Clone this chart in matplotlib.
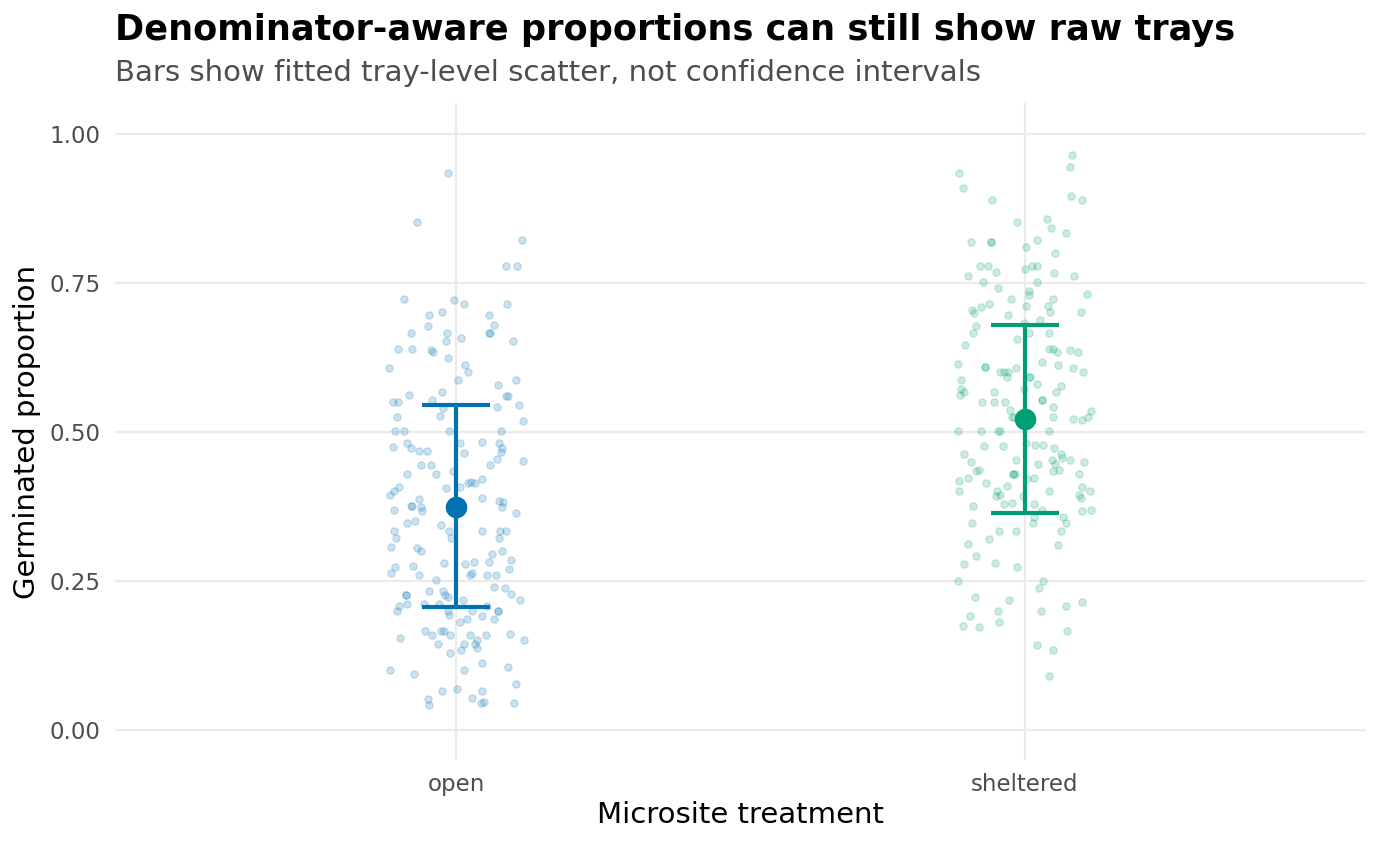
import matplotlib.pyplot as plt

# Data

categories = ['open', 'sheltered']
colors = ['#0072B2', '#009E73']

# fitted proportion and tray-level scatter band (lower, upper)
fit_mean = [0.374, 0.522]
fit_low = [0.206, 0.364]
fit_high = [0.545, 0.680]

# raw trays: horizontal jitter (category units) and germinated proportion
open_jitter = [
    -0.015, -0.069, 0.116, 0.087, 0.107, -0.091, -0.004, 0.013, 0.090, -0.047,
    -0.025, 0.057, -0.049, 0.067, -0.080, -0.016, 0.057, 0.060, -0.018, 0.008,
    0.100, -0.102, -0.078, -0.044, -0.040, -0.014, -0.118, 0.015, 0.021, 0.004,
    0.074, 0.105, -0.083, -0.025, -0.111, -0.102, -0.043, 0.087, 0.091, -0.024,
    0.072, 0.111, -0.104, -0.029, 0.118, -0.108, -0.091, -0.012, 0.078, -0.111,
    -0.086, -0.080, -0.066, -0.051, 0.007, 0.014, 0.046, 0.076, 0.081, 0.079,
    0.072, 0.059, 0.117, -0.062, -0.044, -0.086, -0.036, -0.006, -0.018, 0.007,
    -0.101, -0.109, -0.116, 0.020, 0.026, 0.033, 0.046, -0.065, -0.079, -0.077,
    -0.061, -0.060, -0.109, 0.045, 0.075, 0.083, 0.080, 0.106, -0.087, -0.072,
    -0.026, -0.012, -0.009, -0.110, -0.105, 0.046, 0.077, 0.087, 0.076, -0.114,
    -0.069, -0.061, 0.063, 0.080, 0.097, -0.108, -0.115, -0.076, -0.066, -0.022,
    0.016, 0.032, 0.057, 0.093, 0.025, 0.028, 0.054, 0.070, -0.035, -0.047,
    -0.024, -0.019, -0.015, -0.088, -0.088, 0.067, 0.086, 0.097, 0.113, -0.101,
    -0.104, -0.086, -0.057, -0.030, -0.014, -0.012, 0.012, 0.028, 0.054, 0.073,
    0.073, 0.045, 0.066, 0.006, 0.019, -0.054, -0.027, -0.022, -0.043, -0.011,
    -0.099, 0.025, 0.053, 0.095, 0.119, -0.032, 0.014, 0.033, 0.037, 0.037,
    -0.011, 0.008, 0.046, 0.091, -0.117, -0.074, 0.013, 0.105, -0.025, 0.001,
    0.046, 0.027, -0.049, -0.047, 0.043, 0.049, 0.101,
]
open_prop = [
    0.934, 0.853, 0.822, 0.779, 0.779, 0.723, 0.721, 0.715, 0.715, 0.696,
    0.701, 0.696, 0.678, 0.680, 0.667, 0.667, 0.667, 0.667, 0.653, 0.657,
    0.653, 0.640, 0.640, 0.638, 0.634, 0.625, 0.608, 0.612, 0.601, 0.587,
    0.579, 0.587, 0.563, 0.568, 0.551, 0.551, 0.553, 0.560, 0.560, 0.541,
    0.542, 0.546, 0.525, 0.527, 0.518, 0.501, 0.501, 0.501, 0.501, 0.475,
    0.481, 0.474, 0.469, 0.469, 0.481, 0.465, 0.484, 0.482, 0.474, 0.466,
    0.455, 0.445, 0.452, 0.445, 0.445, 0.429, 0.429, 0.435, 0.407, 0.408,
    0.408, 0.401, 0.394, 0.415, 0.417, 0.414, 0.422, 0.388, 0.376, 0.376,
    0.375, 0.367, 0.369, 0.390, 0.385, 0.382, 0.375, 0.365, 0.347, 0.351,
    0.344, 0.334, 0.322, 0.334, 0.322, 0.334, 0.334, 0.334, 0.322, 0.308,
    0.305, 0.301, 0.296, 0.301, 0.286, 0.273, 0.264, 0.276, 0.261, 0.280,
    0.278, 0.282, 0.282, 0.270, 0.261, 0.263, 0.261, 0.261, 0.252, 0.234,
    0.234, 0.227, 0.223, 0.227, 0.227, 0.240, 0.239, 0.228, 0.219, 0.209,
    0.200, 0.211, 0.212, 0.212, 0.200, 0.194, 0.218, 0.200, 0.208, 0.200,
    0.200, 0.191, 0.186, 0.182, 0.186, 0.167, 0.167, 0.167, 0.159, 0.159,
    0.154, 0.159, 0.159, 0.162, 0.151, 0.144, 0.144, 0.144, 0.151, 0.138,
    0.130, 0.134, 0.112, 0.106, 0.101, 0.094, 0.101, 0.077, 0.065, 0.069,
    0.065, 0.054, 0.053, 0.042, 0.045, 0.048, 0.045,
]

sheltered_jitter = [
    0.083, 0.080, -0.115, -0.109, 0.082, 0.101, -0.057, -0.014, 0.039, 0.046,
    0.072, -0.095, -0.060, -0.060, 0.022, 0.003, 0.053, -0.079, -0.065, -0.050,
    0.001, 0.012, 0.021, 0.051, -0.100, 0.087, -0.073, 0.021, -0.047, 0.008,
    0.007, 0.109, -0.025, 0.050, -0.063, -0.077, -0.092, -0.090, 0.002, 0.041,
    0.045, 0.098, -0.029, 0.026, -0.001, -0.086, -0.091, 0.007, 0.043, -0.014,
    -0.105, 0.043, 0.050, 0.057, 0.080, 0.094, 0.031, -0.117, -0.070, -0.070,
    -0.015, 0.059, 0.084, 0.102, -0.043, -0.036, -0.032, -0.029, 0.007, 0.009,
    -0.112, 0.021, 0.064, -0.113, -0.107, -0.114, -0.054, -0.002, 0.055, -0.075,
    -0.054, -0.035, 0.030, 0.030, 0.050, -0.026, 0.116, 0.112, 0.100, 0.050,
    -0.023, -0.019, 0.085, -0.117, -0.077, -0.047, -0.043, 0.043, -0.072, -0.038,
    0.002, 0.018, 0.032, 0.051, -0.107, -0.094, -0.016, 0.023, 0.047, 0.053,
    0.063, 0.066, 0.080, 0.105, -0.085, -0.080, -0.100, -0.116, -0.068, -0.020,
    -0.020, -0.018, 0.004, 0.016, 0.050, 0.061, 0.095, -0.032, -0.116, -0.049,
    -0.051, -0.044, -0.004, 0.042, 0.100, 0.114, 0.096, 0.099, -0.036, -0.022,
    -0.091, 0.017, 0.030, 0.100, 0.117, 0.016, 0.014, 0.067, 0.073, -0.093,
    -0.045, -0.016, 0.064, -0.063, -0.100, 0.059, -0.086, -0.107, -0.052, -0.014,
    -0.118, 0.032, 0.025, -0.087, -0.027, -0.047, 0.029, 0.072, 0.101, -0.096,
    -0.108, -0.080, -0.046, 0.074, 0.021, 0.050, 0.042,
]
sheltered_prop = [
    0.964, 0.945, 0.934, 0.910, 0.896, 0.890, 0.890, 0.853, 0.858, 0.843,
    0.834, 0.819, 0.819, 0.819, 0.823, 0.811, 0.801, 0.779, 0.779, 0.768,
    0.774, 0.779, 0.779, 0.767, 0.761, 0.761, 0.751, 0.751, 0.742, 0.737,
    0.730, 0.732, 0.723, 0.723, 0.715, 0.710, 0.704, 0.700, 0.711, 0.711,
    0.701, 0.701, 0.697, 0.688, 0.683, 0.678, 0.667, 0.667, 0.667, 0.656,
    0.646, 0.640, 0.640, 0.634, 0.637, 0.634, 0.617, 0.614, 0.610, 0.610,
    0.608, 0.612, 0.608, 0.601, 0.601, 0.601, 0.593, 0.601, 0.592, 0.592,
    0.587, 0.581, 0.577, 0.572, 0.567, 0.563, 0.568, 0.572, 0.567, 0.550,
    0.550, 0.550, 0.553, 0.553, 0.542, 0.537, 0.535, 0.526, 0.520, 0.526,
    0.526, 0.525, 0.522, 0.501, 0.501, 0.501, 0.501, 0.501, 0.477, 0.477,
    0.481, 0.479, 0.479, 0.474, 0.463, 0.450, 0.453, 0.446, 0.453, 0.446,
    0.463, 0.456, 0.453, 0.450, 0.435, 0.436, 0.423, 0.418, 0.415, 0.430,
    0.430, 0.430, 0.422, 0.423, 0.435, 0.436, 0.430, 0.409, 0.401, 0.401,
    0.393, 0.394, 0.393, 0.401, 0.408, 0.401, 0.394, 0.390, 0.380, 0.381,
    0.376, 0.380, 0.370, 0.368, 0.369, 0.358, 0.347, 0.358, 0.348, 0.347,
    0.334, 0.334, 0.334, 0.321, 0.313, 0.311, 0.292, 0.278, 0.280, 0.273,
    0.250, 0.250, 0.238, 0.223, 0.218, 0.200, 0.200, 0.209, 0.215, 0.191,
    0.174, 0.173, 0.182, 0.167, 0.143, 0.134, 0.091,
]

jitters = [open_jitter, sheltered_jitter]
props = [open_prop, sheltered_prop]

# Figure

fig = plt.figure(figsize=(13.82, 8.44), dpi=100)
ax = fig.add_axes([0.0832, 0.0995, 0.9052, 0.7785])

for i, (jit, prop, col) in enumerate(zip(jitters, props, colors)):
    xs = [i + j for j in jit]
    # raw trays, faint
    ax.scatter(xs, prop, s=28, color=col, alpha=0.2, edgecolors=col,
               linewidths=0.9, zorder=2)
    # fitted value with scatter band
    ax.errorbar([i], [fit_mean[i]],
                yerr=[[fit_mean[i] - fit_low[i]], [fit_high[i] - fit_mean[i]]],
                fmt='o', color=col, ms=14.5, elinewidth=3.0, capsize=24.5,
                capthick=3.0, zorder=3)

ax.set_xlim(-0.6, 1.6)
ax.set_ylim(-0.05, 1.052)
ax.set_xticks(range(len(categories)))
ax.set_xticklabels(categories)
ax.set_yticks([0, 0.25, 0.5, 0.75, 1.0])
ax.set_yticklabels(['0.00', '0.25', '0.50', '0.75', '1.00'])
ax.tick_params(length=0, labelsize=16.5, labelcolor='#4D4D4D')
ax.tick_params(axis='y', pad=10.5)
ax.tick_params(axis='x', pad=9)
ax.grid(True, color='#EBEBEB', lw=1.6)
ax.set_axisbelow(True)
for s in ax.spines.values():
    s.set_visible(False)

ax.set_xlabel('Microsite treatment', fontsize=21, labelpad=4)
ax.set_ylabel('Germinated proportion', fontsize=21, labelpad=6)

fig.text(0.0832, 0.964, 'Denominator-aware proportions can still show raw trays',
         fontsize=25.3, fontweight='bold', va='center')
fig.text(0.0832, 0.913, 'Bars show fitted tray-level scatter, not confidence intervals',
         fontsize=21, color='#4D4D4D', va='center')

plt.savefig('out.png', dpi=100)
